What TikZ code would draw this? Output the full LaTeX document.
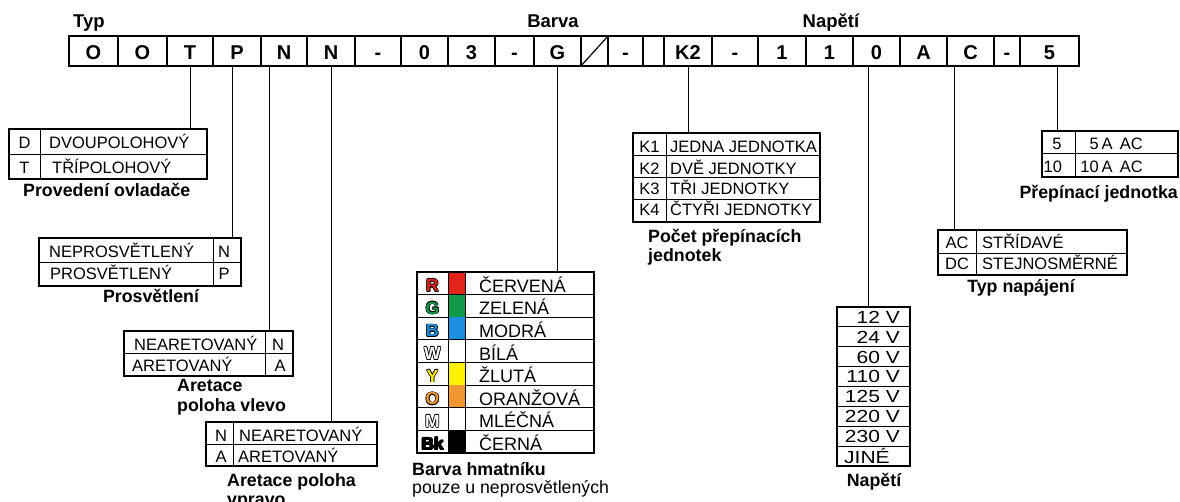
\documentclass[tikz,border=0pt]{standalone}
\usepackage{fontspec}
\setmainfont{Liberation Sans}
\newfontfamily\widefont{Liberation Sans}[FakeStretch=1.2]
\usetikzlibrary{positioning}
\definecolor{cR}{HTML}{E1251B}
\definecolor{cG}{HTML}{12994A}
\definecolor{cB}{HTML}{1C8FE0}
\definecolor{cY}{HTML}{FFF200}
\definecolor{cO}{HTML}{EE9733}
\tikzset{
  cell/.style={draw, line width=1.2pt, minimum height=30pt, inner sep=0pt,
    text height=17.2pt, text depth=0pt, font=\fontsize{20}{20}\selectfont\bfseries},
  tabframe/.style={draw, line width=2pt, inner sep=0pt, outer sep=0pt, anchor=north west},
  tabline/.style={line width=0.9pt},
  txt/.style={inner sep=0pt, anchor=base west, font=\fontsize{16.5}{18}\selectfont},
  coltxt/.style={txt, font=\fontsize{18}{19}\selectfont},
  volt/.style={txt, font=\widefont\fontsize{17.5}{19}\selectfont},
  code/.style={inner sep=0pt, anchor=base, font=\fontsize{16.5}{18}\selectfont},
  captxt/.style={inner sep=0pt, anchor=base west, font=\fontsize{17.8}{19}\selectfont\bfseries},
  toplbl/.style={captxt, font=\fontsize{18.5}{19}\selectfont\bfseries},
  colkey/.style={inner sep=0pt, anchor=base, font=\fontsize{17.5}{19}\selectfont\bfseries},
  conn/.style={line width=1pt}
}
\begin{document}
\begin{tikzpicture}[x=1pt, y=-1pt]
\useasboundingbox (0,0) rectangle (1180,502);
\foreach \i/\a/\b/\t in {1/69/118/O, 2/118/167/O, 3/167/213/T, 4/213/261/P, 5/261/307/N,
    6/307/355/N, 7/355/401/-, 8/401/448/0, 9/448/495/3, 10/495/534/-, 11/534/581/G,
    12/581/608/{}, 13/608/643/-, 14/643/664/{}, 15/664/712/K2, 16/712/758/-, 17/758/806/1,
    18/806/853/1, 19/853/900/0, 20/900/947/A, 21/947/994/C, 22/994/1020/-, 23/1020/1079/5}
  \node[cell, minimum width={(\b-\a)*1pt}] (c\i) at ({(\a+\b)/2},51) {\t};
\draw[line width=1.2pt] (c12.south west) -- (c12.north east);
\node[toplbl] (typ) at (73,27.5) {Typ};
\node[toplbl, anchor=base] (barva) at (553,28) {Barva};
\node[toplbl, anchor=base] (napeti) at (831,28) {Napětí};

\node[tabframe, minimum width=198pt, minimum height=50pt] (tDT) at (9,129) {};
\draw[tabline] (40,129) -- (40,179) (9,154) -- (207,154);
\node[code] at (24.5,149) {D};
\node[txt] at (49,149) {DVOUPOLOHOVÝ};
\node[code] at (24.5,174) {T};
\node[txt] at (52,174) {TŘÍPOLOHOVÝ};
\node[captxt] at (23,197) {Provedení ovladače};

\node[tabframe, minimum width=202pt, minimum height=48pt] (tPR) at (39,238) {};
\draw[tabline] (213,238) -- (213,286) (39,262) -- (241,262);
\node[txt] at (49,258) {NEPROSVĚTLENÝ};
\node[code] at (224,258) {N};
\node[txt] at (50,280) {PROSVĚTLENÝ};
\node[code] at (224,280) {P};
\node[captxt, anchor=base] at (151,303) {Prosvětlení};

\node[tabframe, minimum width=169pt, minimum height=45pt] (tAL) at (124,331) {};
\draw[tabline] (265,331) -- (265,376) (124,353) -- (293,353);
\node[txt] at (134,350.5) {NEARETOVANÝ};
\node[code] at (278,350.5) {N};
\node[txt] at (132,371) {ARETOVANÝ};
\node[code] at (280,371) {A};
\node[captxt] at (177,391.5) {Aretace};
\node[captxt] at (177,411) {poloha vlevo};

\node[tabframe, minimum width=171pt, minimum height=44pt] (tAP) at (206,422) {};
\draw[tabline] (233,422) -- (233,466) (206,444) -- (377,444);
\node[code] at (221,441.5) {N};
\node[txt] at (239,441.5) {NEARETOVANÝ};
\node[code] at (221,462) {A};
\node[txt] at (238,462) {ARETOVANÝ};
\node[captxt] at (227,486.5) {Aretace poloha};
\node[captxt] at (227,505) {vpravo};

\foreach \l/\c/\n [count=\i] in {R/cR/ČERVENÁ, G/cG/ZELENÁ, B/cB/MODRÁ, W/white/BÍLÁ,
    Y/cY/ŽLUTÁ, O/cO/ORANŽOVÁ, M/white/MLÉČNÁ, Bk/black/ČERNÁ} {
  \fill[\c] (448,{272+(\i-1)*22.625}) rectangle (465,{272+\i*22.625});
  \draw[tabline] (417,{272+\i*22.625}) -- (594,{272+\i*22.625});
  \foreach \dx/\dy in {-0.7/0, 0.7/0, 0/-0.7, 0/0.7, -0.5/-0.5, 0.5/0.5, -0.5/0.5, 0.5/-0.5}
    \node[colkey, text=black] at ({432.5+\dx},{272+\i*22.625-3+\dy}) {\l};
  \node[colkey, text=\c] at (432.5,{272+\i*22.625-3}) {\l};
  \node[coltxt] at (479,{272+\i*22.625-2.5}) {\n};
}
\draw[tabline] (448,272) -- (448,453) (465,272) -- (465,453);
\node[tabframe, minimum width=177pt, minimum height=181pt] (tCOL) at (417,272) {};
\node[captxt] at (412,475) {Barva hmatníku};
\node[txt, font=\fontsize{17.7}{19}\selectfont] at (412,493) {pouze u neprosvětlených};

\node[tabframe, minimum width=187pt, minimum height=89pt] (tK) at (633,133) {};
\draw[tabline] (666,133) -- (666,222) (633,155) -- (820,155) (633,177) -- (820,177) (633,199) -- (820,199);
\foreach \k/\t/\y in {1/JEDNA JEDNOTKA/152.3, 2/DVĚ JEDNOTKY/175, 3/TŘI JEDNOTKY/194.5, 4/ČTYŘI JEDNOTKY/215.5} {
  \node[code] at (649.5,\y) {K\k};
  \node[txt] at (670,\y) {\t};
}
\node[captxt] at (648,242.5) {Počet přepínacích};
\node[captxt] at (648,261.5) {jednotek};

\node[tabframe, minimum width=136pt, minimum height=46pt] (tJ) at (1042,131) {};
\draw[tabline] (1075,131) -- (1075,177) (1042,153) -- (1178,153);
\node[code] at (1057,149.3) {5};
\node[txt] at (1043.5,172.7) {10};
\node[txt, anchor=base east] at (1143,149.3) {5\,A~\,AC};
\node[txt, anchor=base east] at (1143,172.7) {10\,A~\,AC};
\node[captxt, anchor=base east] at (1178,198.3) {Přepínací jednotka};

\node[tabframe, minimum width=189pt, minimum height=45pt] (tAC) at (938,230) {};
\draw[tabline] (976,230) -- (976,275) (938,253) -- (1127,253);
\node[code] at (957,248.3) {AC};
\node[txt] at (982,248.3) {STŘÍDAVÉ};
\node[code] at (957,269.3) {DC};
\node[txt] at (982,269.3) {STEJNOSMĚRNÉ};
\node[captxt, anchor=base] at (1021,292.7) {Typ napájení};

\foreach \v [count=\i] in {12 V, 24 V, 60 V, 110 V, 125 V, 220 V, 230 V} {
  \draw[tabline] (837,{307+\i*19.875}) -- (910,{307+\i*19.875});
  \node[volt, anchor=base east] at (900,{307+\i*19.875-3.6}) {\v};
}
\node[volt] at (844,463.3) {JINÉ};
\node[tabframe, minimum width=73pt, minimum height=159pt] (tV) at (837,307) {};
\node[captxt, anchor=base] at (874,486) {Napětí};

\coordinate (p4) at ([xshift=-5pt]c4.south);
\coordinate (p5) at ([xshift=-15pt]c5.south);
\coordinate (p19) at ([xshift=-8.5pt]c19.south);
\coordinate (p21) at ([xshift=-16.5pt]c21.south);
\coordinate (p23) at ([xshift=7.5pt]c23.south);
\draw[conn] (c3.south) -- (c3.south |- tDT.north);
\draw[conn] (p4) -- (p4 |- tPR.north);
\draw[conn] (p5) -- (p5 |- tAL.north);
\draw[conn] (c6.south) -- (c6.south |- tAP.north);
\draw[conn] (c11.south) -- (c11.south |- tCOL.north);
\draw[conn] (c15.south) -- (c15.south |- tK.north);
\draw[conn] (p19) -- (p19 |- tV.north);
\draw[conn] (p21) -- (p21 |- tAC.north);
\draw[conn] (p23) -- (p23 |- tJ.north);
\end{tikzpicture}
\end{document}
